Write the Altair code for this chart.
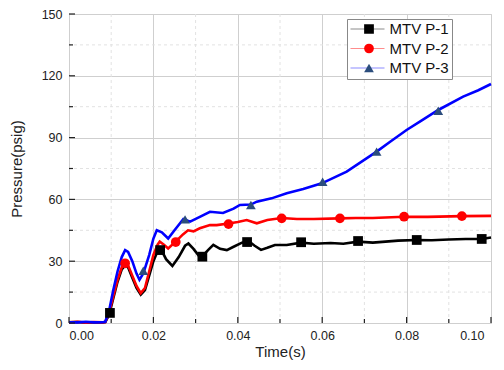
import altair as alt
import pandas as pd

FONT = "Liberation Sans"
SERIES = ["MTV P-1", "MTV P-2", "MTV P-3"]
MARK_KEYS = ["k1", "k2", "k3"]

# ---- line data ----
p1_t = [0, 0.002, 0.004, 0.006, 0.008, 0.0086, 0.0095, 0.0105, 0.0115, 0.0125, 0.0133, 0.014, 0.015, 0.016,
        0.017, 0.018, 0.019, 0.020, 0.021, 0.0215, 0.022, 0.023, 0.0245, 0.026, 0.0275, 0.0283, 0.0295, 0.031,
        0.0315, 0.033, 0.0342, 0.0358, 0.0374, 0.039, 0.041, 0.0425, 0.044, 0.0455, 0.0470, 0.0488, 0.0516,
        0.055, 0.058, 0.062, 0.065, 0.0685, 0.072, 0.075, 0.078, 0.0825, 0.086, 0.090, 0.094, 0.0978, 0.100]
p1_v = [0.3, 0.5, 0.2, 0.4, 0.3, 0.5, 4.0, 12.0, 20.0, 26.0, 28.0, 27.0, 22.0, 17.0,
        13.8, 16.0, 23.0, 30.0, 35.0, 36.0, 35.0, 31.0, 27.7, 32.0, 37.5, 38.6, 36.0, 32.0,
        32.2, 35.5, 37.9, 36.0, 35.4, 37.0, 39.0, 39.8, 37.5, 35.5, 36.5, 37.9, 37.9,
        39.0, 38.5, 38.8, 38.5, 39.5, 39.0, 39.5, 40.0, 40.3, 40.2, 40.5, 40.8, 40.8, 41.5]

p2_t = [0, 0.002, 0.004, 0.006, 0.008, 0.0086, 0.0095, 0.0105, 0.0115, 0.0125, 0.0133, 0.014, 0.015, 0.016,
        0.017, 0.018, 0.019, 0.020, 0.021, 0.0215, 0.0225, 0.0235, 0.0255, 0.027, 0.0282, 0.0295, 0.031,
        0.0334, 0.035, 0.0378, 0.040, 0.0421, 0.0445, 0.047, 0.0504, 0.054, 0.058, 0.0642, 0.068, 0.072,
        0.0794, 0.085, 0.0931, 0.100]
p2_v = [0.3, 0.6, 0.2, 0.5, 0.3, 0.5, 5.0, 13.0, 21.0, 27.0, 29.0, 28.0, 23.0, 18.0,
        14.5, 17.0, 25.0, 33.0, 38.0, 39.5, 38.0, 36.2, 40.0, 43.0, 45.0, 44.5, 46.0,
        47.6, 47.5, 48.3, 49.0, 50.0, 48.4, 50.0, 51.0, 50.5, 50.5, 50.8, 51.0, 51.0,
        51.6, 51.5, 51.9, 52.0]

p3_t = [0, 0.002, 0.004, 0.006, 0.008, 0.0086, 0.0095, 0.0105, 0.0115, 0.0125, 0.0133, 0.014, 0.015, 0.016,
        0.0167, 0.0176, 0.019, 0.020, 0.0208, 0.022, 0.0235, 0.025, 0.0271, 0.0287, 0.031, 0.0334, 0.0365,
        0.039, 0.0405, 0.0431, 0.0445, 0.048, 0.0516, 0.0555, 0.0599, 0.0658, 0.0729, 0.0761, 0.080,
        0.0837, 0.0875, 0.0934, 0.097, 0.100]
p3_v = [0.4, 0.3, 0.6, 0.3, 0.4, 0.6, 6.0, 16.0, 25.0, 32.0, 35.4, 34.5, 30.0, 24.0,
        21.0, 24.0, 33.0, 41.0, 45.0, 44.0, 41.0, 45.0, 50.5, 49.2, 51.5, 54.0, 53.4,
        55.5, 57.3, 57.5, 58.9, 60.5, 63.0, 65.0, 67.8, 73.5, 83.2, 88.0, 93.7,
        98.5, 103.4, 109.9, 113.0, 116.0]

# ---- marker data ----
m1_t = [0.0097, 0.0216, 0.0316, 0.0422, 0.055, 0.0685, 0.0824, 0.0978]
m1_v = [4.9, 35.4, 32.2, 39.3, 39.2, 39.8, 40.3, 40.8]
m2_t = [0.0133, 0.0253, 0.0378, 0.0504, 0.0642, 0.0794, 0.0931]
m2_v = [29.0, 39.3, 48.0, 50.8, 50.8, 51.6, 51.9]
m3_t = [0.0176, 0.0275, 0.0431, 0.0601, 0.0729, 0.0875]
m3_v = [25.4, 50.3, 57.3, 68.6, 83.2, 103.0]

# ---- ticks ----
x_major = [0.0, 0.02, 0.04, 0.06, 0.08, 0.10]
x_minor = [0.01, 0.03, 0.05, 0.07, 0.09]
y_major = [0, 30, 60, 90, 120, 150]
y_minor = [15, 45, 75, 105, 135]

W, H = 422, 309

lines = pd.concat([
    pd.DataFrame({"series": SERIES[0], "t": p1_t, "p": p1_v, "o": range(len(p1_t))}),
    pd.DataFrame({"series": SERIES[1], "t": p2_t, "p": p2_v, "o": range(len(p2_t))}),
    pd.DataFrame({"series": SERIES[2], "t": p3_t, "p": p3_v, "o": range(len(p3_t))}),
])
marks = pd.concat([
    pd.DataFrame({"key": MARK_KEYS[0], "t": m1_t, "p": m1_v}),
    pd.DataFrame({"key": MARK_KEYS[1], "t": m2_t, "p": m2_v}),
    pd.DataFrame({"key": MARK_KEYS[2], "t": m3_t, "p": m3_v}),
])

xscale = alt.Scale(domain=[0, 0.1], nice=False)
yscale = alt.Scale(domain=[0, 150], nice=False)

xaxis = alt.Axis(values=x_major, format=".2f", title="Time(s)", grid=True, gridColor="#cfcfcf",
                 gridWidth=1, ticks=False, domain=False, labelFontSize=12.5, labelPadding=6,
                 labelOffset={"condition": {"test": "datum.value >= 0.1", "value": -7}, "value": 0},
                 titleFontSize=15, titleFontWeight="normal", titlePadding=3, labelColor="#222",
                 titleColor="#222", labelFont=FONT, titleFont=FONT)
yaxis = alt.Axis(values=y_major, format="d", title="Pressure(psig)", grid=True, gridColor="#cfcfcf",
                 gridWidth=1, ticks=False, domain=False, labelFontSize=12.5, labelPadding=7,
                 titleFontSize=15, titleFontWeight="normal", titlePadding=17, labelColor="#222",
                 titleColor="#222", labelFont=FONT, titleFont=FONT)

X = lambda f: alt.X(f, scale=xscale, axis=xaxis)
Y = lambda f: alt.Y(f, scale=yscale, axis=yaxis)

minor_x = alt.Chart(pd.DataFrame({"v": x_minor})).mark_rule(
    color="#e2e2e2", strokeDash=[3, 3], strokeWidth=1).encode(x=X("v:Q"))
minor_y = alt.Chart(pd.DataFrame({"v": y_minor})).mark_rule(
    color="#e2e2e2", strokeDash=[3, 3], strokeWidth=1).encode(y=Y("v:Q"))

line_layer = alt.Chart(lines).mark_line(strokeWidth=2.6).encode(
    x=X("t:Q"),
    y=Y("p:Q"),
    order="o:Q",
    color=alt.Color("series:N",
                    scale=alt.Scale(domain=SERIES, range=["#000000", "#ff0000", "#0000ff"]),
                    legend=alt.Legend(title=None, orient="none", legendX=278, legendY=5,
                                      direction="vertical", symbolType="stroke", symbolSize=1156,
                                      symbolStrokeWidth=1.2, symbolOpacity=0.45, clipHeight=15,
                                      labelFontSize=15, labelFont=FONT, labelColor="#111",
                                      labelOffset=4, rowPadding=3.5, padding=2.5,
                                      strokeColor="#888", fillColor="white")),
)

legB = alt.Legend(title=None, orient="none", legendX=290, legendY=5,
                  direction="vertical", symbolSize=95, symbolStrokeWidth=0, clipHeight=15,
                  labelFontSize=15, labelFont=FONT, labelExpr="''",
                  labelOffset=4, rowPadding=3.5, padding=2.5)

point_layer = alt.Chart(marks).mark_point(filled=True, size=95, opacity=1, strokeWidth=0).encode(
    x=X("t:Q"),
    y=Y("p:Q"),
    fill=alt.Fill("key:N",
                  scale=alt.Scale(domain=MARK_KEYS, range=["#000000", "#ff0000", "#2b4d7d"]),
                  legend=legB),
    shape=alt.Shape("key:N",
                    scale=alt.Scale(domain=MARK_KEYS, range=["square", "circle", "triangle-up"]),
                    legend=legB),
)

tick_xM = alt.Chart(pd.DataFrame({"v": x_major})).mark_rule(color="#222", strokeWidth=1.2).encode(
    x=X("v:Q"), y=alt.value(H), y2=alt.value(H - 6))
tick_xm = alt.Chart(pd.DataFrame({"v": x_minor})).mark_rule(color="#222", strokeWidth=1.2).encode(
    x=X("v:Q"), y=alt.value(H), y2=alt.value(H - 4))
tick_yM = alt.Chart(pd.DataFrame({"v": y_major})).mark_rule(color="#222", strokeWidth=1.2).encode(
    y=Y("v:Q"), x=alt.value(0), x2=alt.value(6))
tick_ym = alt.Chart(pd.DataFrame({"v": y_minor})).mark_rule(color="#222", strokeWidth=1.2).encode(
    y=Y("v:Q"), x=alt.value(0), x2=alt.value(4))

chart = alt.layer(minor_x, minor_y, line_layer, point_layer, tick_xM, tick_xm, tick_yM, tick_ym).properties(
    width=W, height=H,
    autosize=alt.AutoSizeParams(type="none"),
    padding={"left": 61, "top": 6, "right": 5, "bottom": 39},
).configure_view(stroke="#222", strokeWidth=1.5).configure(background="white")

chart.save("out.html", embed_options={"renderer": "svg", "actions": False})
